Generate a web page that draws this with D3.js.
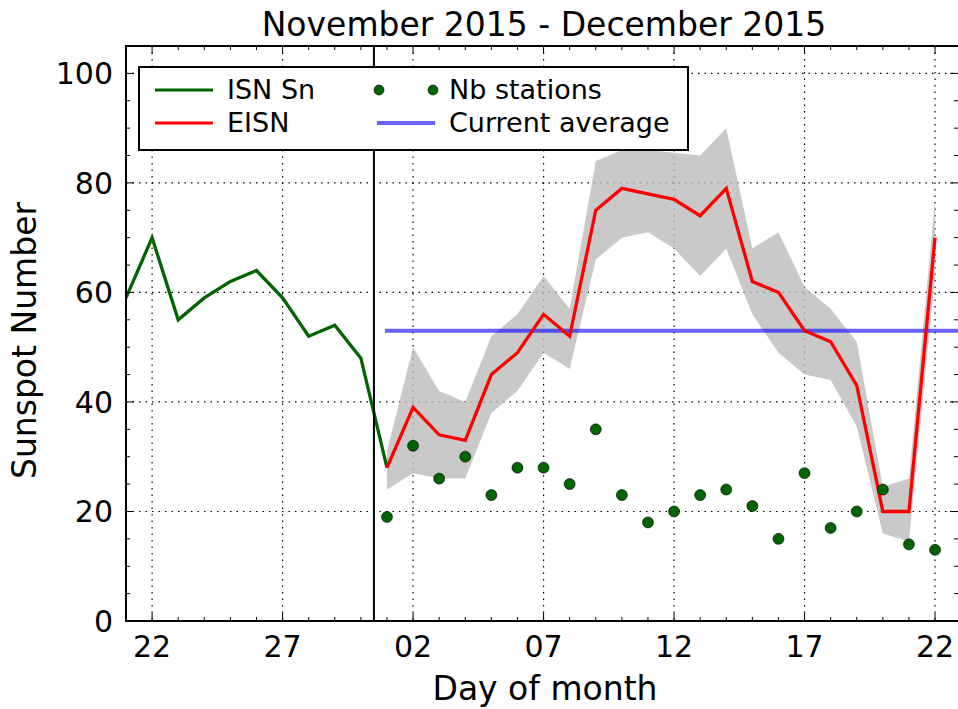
<!DOCTYPE html>
<html><head><meta charset="utf-8">
<script src="https://cdn.jsdelivr.net/npm/d3@7"></script>
<style>body{margin:0;background:#fff}svg{font-family:"DejaVu Sans",sans-serif}</style>
</head><body><svg id="c" width="958" height="709"></svg>
<script>
const isnDays = ["2015-11-21","2015-11-22","2015-11-23","2015-11-24","2015-11-25","2015-11-26","2015-11-27","2015-11-28","2015-11-29","2015-11-30","2015-12-01"];
const isnValues = [59,70,55,59,62,64,59,52,54,48,28];
const eisnDays = d3.range(1,23).map(d=>"2015-12-"+String(d).padStart(2,"0"));
const eisnValues = [28,39,34,33,45,49,56,52,75,79,78,77,74,79,62,60,53,51,43,20,20,70];
const eisnUpper = [31,50,42,40,52,56,63,57,84,86,86,85.5,85,90,68,71,61,57,51,24.5,26,77];
const eisnLower = [24,27,26,26,38,42,49,46,66,70,71,68,63,68,56,49,45,44,35.5,16,14.5,63];
const stations = [19,32,26,30,23,28,28,25,35,23,18,20,23,24,21,15,27,17,20,24,14,13];
const currentAverage = 53;
const tickDays = ["2015-11-22","2015-11-27","2015-12-02","2015-12-07","2015-12-12","2015-12-17","2015-12-22"];
const tickLabels = ["22","27","02","07","12","17","22"];
const yTicks = [0,20,40,60,80,100];

const P = s=>new Date(s+"T00:00:00Z");
const L=126,R=958,T=46,B=621;
const x = d3.scaleUtc().domain([P("2015-11-21"), new Date(P("2015-12-22").getTime()+0.88*864e5)]).range([L,R]);
const y = d3.scaleLinear().domain([0,105]).range([B,T]);
const svg = d3.select("#c");
svg.append("clipPath").attr("id","cp").append("rect").attr("x",L).attr("y",T).attr("width",R-L).attr("height",B-T);
const g = svg.append("g").attr("clip-path","url(#cp)");

tickDays.forEach(d=>g.append("line").attr("x1",x(P(d))).attr("x2",x(P(d))).attr("y1",T).attr("y2",B).attr("stroke","#000").attr("stroke-width",1.2).attr("stroke-dasharray","1.5,5"));
yTicks.forEach(v=>g.append("line").attr("x1",L).attr("x2",R).attr("y1",y(v)).attr("y2",y(v)).attr("stroke","#000").attr("stroke-width",1.2).attr("stroke-dasharray","1.5,5"));

g.append("path").datum(eisnDays.map((d,i)=>({d:P(d),u:eisnUpper[i],l:eisnLower[i]})))
 .attr("d",d3.area().x(d=>x(d.d)).y0(d=>y(d.l)).y1(d=>y(d.u))).attr("fill","#bbbbbb").attr("opacity",0.8);
g.append("line").attr("x1",x(P("2015-12-01"))-2).attr("x2",R).attr("y1",y(currentAverage)).attr("y2",y(currentAverage)).attr("stroke","#0000ff").attr("stroke-opacity",0.6).attr("stroke-width",4);
g.append("path").datum(isnDays.map((d,i)=>[P(d),isnValues[i]])).attr("d",d3.line().x(d=>x(d[0])).y(d=>y(d[1])))
 .attr("fill","none").attr("stroke","#006400").attr("stroke-width",3.3);
g.append("path").datum(eisnDays.map((d,i)=>[P(d),eisnValues[i]])).attr("d",d3.line().x(d=>x(d[0])).y(d=>y(d[1])))
 .attr("fill","none").attr("stroke","#ff0000").attr("stroke-width",3.3);
const vx = x(new Date(P("2015-11-30").getTime()+0.5*864e5));
g.append("line").attr("x1",vx).attr("x2",vx).attr("y1",T).attr("y2",B).attr("stroke","#000").attr("stroke-width",2);
g.selectAll("circle").data(stations).enter().append("circle").attr("cx",(d,i)=>x(P(eisnDays[i]))).attr("cy",d=>y(d)).attr("r",5.5)
 .attr("fill","#006400").attr("stroke","#000").attr("stroke-width",0.6);

svg.append("rect").attr("x",L).attr("y",T).attr("width",R-L+2).attr("height",B-T).attr("fill","none").attr("stroke","#000").attr("stroke-width",2);
const tk = svg.append("g");
d3.timeDay.range(P("2015-11-21"), P("2015-12-23")).forEach(d=>{const X=x(d);const major=tickDays.some(t=>+P(t)===+d);const len=major?8:4;
 tk.append("line").attr("x1",X).attr("x2",X).attr("y1",B).attr("y2",B-len).attr("stroke","#000");
 tk.append("line").attr("x1",X).attr("x2",X).attr("y1",T).attr("y2",T+len).attr("stroke","#000");});
d3.range(0,105,5).forEach(v=>{const Y=y(v);const len=v%20===0?8:4;
 tk.append("line").attr("x1",L).attr("x2",L+len).attr("y1",Y).attr("y2",Y).attr("stroke","#000");
 tk.append("line").attr("x1",R).attr("x2",R-len).attr("y1",Y).attr("y2",Y).attr("stroke","#000");});
tickDays.forEach((d,i)=>svg.append("text").attr("x",x(P(d))).attr("y",B+36).attr("text-anchor","middle").attr("font-size",30).text(tickLabels[i]));
yTicks.forEach(v=>svg.append("text").attr("x",L-13).attr("y",y(v)+11).attr("text-anchor","end").attr("font-size",30).text(v));
svg.append("text").attr("x",545).attr("y",700).attr("text-anchor","middle").attr("font-size",33).text("Day of month");
svg.append("text").attr("transform",`translate(36,${(T+B)/2+7}) rotate(-90)`).attr("text-anchor","middle").attr("font-size",33).text("Sunspot Number");
svg.append("text").attr("x",544).attr("y",36).attr("text-anchor","middle").attr("font-size",33).text("November 2015 - December 2015");

const lg = svg.append("g");
lg.append("rect").attr("x",139).attr("y",67).attr("width",549).attr("height",83).attr("fill","#fff").attr("stroke","#000").attr("stroke-width",2);
const items=[{t:"ISN Sn",c:"#006400",x:155,y:90,k:"l"},{t:"EISN",c:"#ff0000",x:155,y:123,k:"l"},{t:"Nb stations",c:"#006400",x:377,y:90,k:"d"},{t:"Current average",c:"#0000ff",x:377,y:123,k:"a"}];
items.forEach(it=>{
 if(it.k==="d"){[it.x+2,it.x+56].forEach(cx=>lg.append("circle").attr("cx",cx).attr("cy",it.y).attr("r",5).attr("fill",it.c).attr("stroke","#000").attr("stroke-width",0.6));}
 else lg.append("line").attr("x1",it.x).attr("x2",it.x+58).attr("y1",it.y).attr("y2",it.y).attr("stroke",it.c).attr("stroke-width",it.k==="a"?4:3).attr("stroke-opacity",it.k==="a"?0.6:1);
 lg.append("text").attr("x",it.x+72).attr("y",it.y+9).attr("font-size",27).text(it.t);
});
</script></body></html>
